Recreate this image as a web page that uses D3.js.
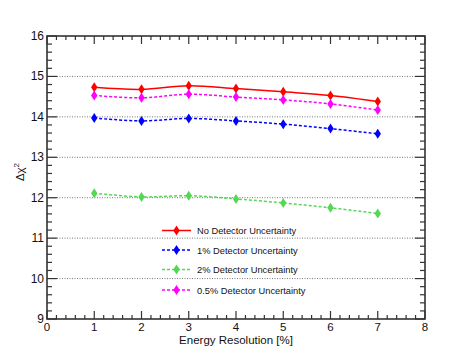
<!DOCTYPE html>
<html>
<head>
<style>
  body { margin: 0; background: #fff; }
  text { font-family: "Liberation Sans", Arial, sans-serif; fill: #111; }
</style>
<script src="https://d3js.org/d3.v7.min.js"></script>
</head>
<body>
<svg width="473" height="355"></svg>
<script>
var resolution = [1, 2, 3, 4, 5, 6, 7];
var noUnc  = [14.73, 14.68, 14.77, 14.70, 14.62, 14.53, 14.38];
var unc1   = [13.97, 13.90, 13.96, 13.90, 13.82, 13.71, 13.58];
var unc2   = [12.11, 12.02, 12.05, 11.97, 11.87, 11.75, 11.61];
var unc05  = [14.53, 14.47, 14.56, 14.49, 14.42, 14.32, 14.17];
var seriesNames = ["No Detector Uncertainty", "1% Detector Uncertainty",
                   "2% Detector Uncertainty", "0.5% Detector Uncertainty"];
var xTicks = [0, 1, 2, 3, 4, 5, 6, 7, 8];
var yTicks = [9, 10, 11, 12, 13, 14, 15, 16];

var series = [
  { name: seriesNames[0], vals: noUnc, color: "#ff0000", dash: null },
  { name: seriesNames[1], vals: unc1,  color: "#0000ff", dash: "3,2" },
  { name: seriesNames[2], vals: unc2,  color: "#55d655", dash: "3,2" },
  { name: seriesNames[3], vals: unc05, color: "#ff00ff", dash: "3,2" }
];

var svg = d3.select("svg");
var pLeft = 47, pRight = 425, pTop = 36, pBottom = 319;

var x = d3.scaleLinear().domain([0, 8]).range([pLeft, pRight]);
var y = d3.scaleLinear().domain([9, 16]).range([pBottom, pTop]);

// grid
svg.selectAll(".grid").data(yTicks.slice(1, -1)).enter().append("line")
  .attr("x1", pLeft).attr("x2", pRight)
  .attr("y1", function(d) { return y(d); }).attr("y2", function(d) { return y(d); })
  .attr("stroke", "#777").attr("stroke-width", 1).attr("stroke-dasharray", "1,1.5");

// minor/major ticks
var xMinor = d3.range(0, 8.001, 0.2);
var yMinor = d3.range(9, 16.001, 0.2);
var frameCol = "#333";
function isMajor(v) { return Math.abs(v - Math.round(v)) < 1e-6; }

var tk = svg.append("g").attr("stroke", frameCol).attr("stroke-width", 1.2);
xMinor.forEach(function(v) {
  var L = isMajor(v) ? 8 : 4;
  tk.append("line").attr("x1", x(v)).attr("x2", x(v)).attr("y1", pBottom).attr("y2", pBottom - L);
  tk.append("line").attr("x1", x(v)).attr("x2", x(v)).attr("y1", pTop).attr("y2", pTop + L);
});
yMinor.forEach(function(v) {
  var L = isMajor(v) ? 10 : 5;
  tk.append("line").attr("y1", y(v)).attr("y2", y(v)).attr("x1", pLeft).attr("x2", pLeft + L);
  tk.append("line").attr("y1", y(v)).attr("y2", y(v)).attr("x1", pRight).attr("x2", pRight - L);
});

// frame
svg.append("rect").attr("x", pLeft).attr("y", pTop)
  .attr("width", pRight - pLeft).attr("height", pBottom - pTop)
  .attr("fill", "none").attr("stroke", frameCol).attr("stroke-width", 1.6);

// tick labels
svg.selectAll(".xl").data(xTicks).enter().append("text")
  .attr("x", function(d) { return x(d); }).attr("y", pBottom + 12)
  .attr("text-anchor", "middle").attr("font-size", 11.5)
  .text(function(d) { return d; });
svg.selectAll(".yl").data(yTicks).enter().append("text")
  .attr("x", pLeft - 3).attr("y", function(d) { return y(d) + 4; })
  .attr("text-anchor", "end").attr("font-size", 12)
  .text(function(d) { return d; });

// axis titles
svg.append("text").attr("x", 236).attr("y", 344)
  .attr("text-anchor", "middle").attr("font-size", 11.5)
  .text("Energy Resolution [%]");
svg.append("text").attr("transform", "translate(24,172) rotate(-90)")
  .attr("text-anchor", "middle").attr("font-size", 11.5)
  .html("Δχ<tspan dy='-5' font-size='8'>2</tspan>");

// lines and markers
var line = d3.line()
  .x(function(d, i) { return x(resolution[i]); })
  .y(function(d) { return y(d); })
  .curve(d3.curveCatmullRom.alpha(0.5));

function diamond(g, cx, cy, col) {
  g.append("path")
    .attr("d", "M" + cx + "," + (cy - 5) + "L" + (cx + 3.2) + "," + cy +
               "L" + cx + "," + (cy + 5) + "L" + (cx - 3.2) + "," + cy + "Z")
    .attr("fill", col);
}

series.forEach(function(s) {
  svg.append("path").datum(s.vals)
    .attr("d", line).attr("fill", "none")
    .attr("stroke", s.color).attr("stroke-width", 1.5)
    .attr("stroke-dasharray", s.dash);
  var g = svg.append("g");
  s.vals.forEach(function(v, i) { diamond(g, x(resolution[i]), y(v), s.color); });
});

// legend
var legY = [230.5, 250, 269.5, 290];
series.forEach(function(s, i) {
  var g = svg.append("g");
  g.append("line").attr("x1", 162).attr("x2", 191)
    .attr("y1", legY[i]).attr("y2", legY[i])
    .attr("stroke", s.color).attr("stroke-width", 1.5)
    .attr("stroke-dasharray", s.dash);
  diamond(g, 176.5, legY[i], s.color);
  g.append("text").attr("x", 197).attr("y", legY[i] + 3.5)
    .attr("font-size", 9.3).text(s.name);
});
</script>
</body>
</html>
